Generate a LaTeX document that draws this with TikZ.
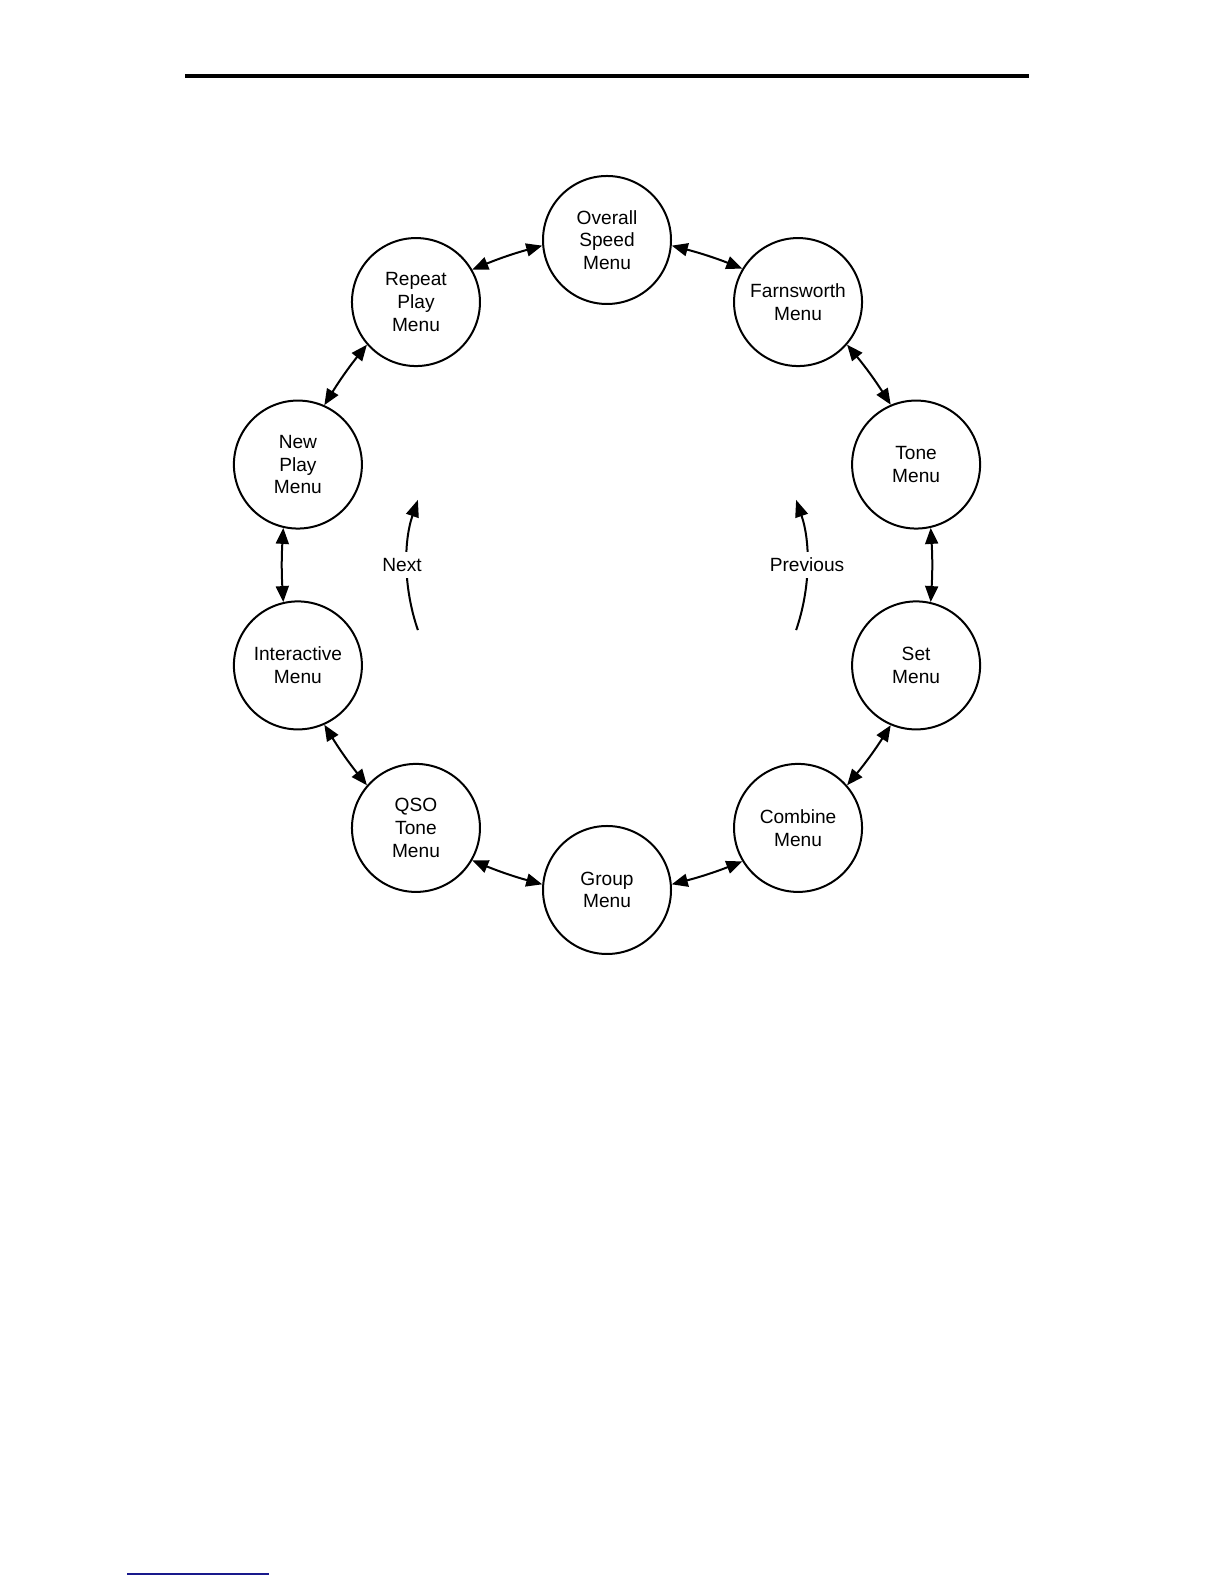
\documentclass[tikz,border=0pt]{standalone}
\usepackage{fontspec}
\setmainfont{Liberation Sans}
\usetikzlibrary{arrows.meta}
\definecolor{rulenavy}{RGB}{25,25,140}
\begin{document}
\begin{tikzpicture}[x=0.5bp,y=0.5bp,
  menu/.style={circle,draw,line width=1bp,minimum size=64bp,inner sep=0pt,align=center,
    font=\fontsize{9.6}{11.4}\selectfont},
  link/.style={line width=1bp,{Triangle[length=8bp,width=6.5bp]}-{Triangle[length=8bp,width=6.5bp]}},
  flow/.style={line width=1bp,-{Triangle[length=8.5bp,width=6.5bp]}},
  lbl/.style={fill=white,inner sep=3bp,font=\fontsize{9.6}{11.4}\selectfont}]
\path[use as bounding box] (0,0) rectangle (1224,1584);
% top rule and bottom short rule
\draw[line width=2bp] (185,1508) -- (1029,1508);
\draw[rulenavy,line width=0.8bp] (127,10) -- (269,10);
\coordinate (C) at (607,1019);
\node[menu] (os) at ([shift={(90:325)}]C) {Overall\\Speed\\Menu};
\node[menu] (fw) at ([shift={(54:325)}]C) {Farnsworth\\Menu};
\node[menu] (tn) at ([shift={(18:325)}]C) {Tone\\Menu};
\node[menu] (st) at ([shift={(-18:325)}]C) {Set\\Menu};
\node[menu] (cb) at ([shift={(-54:325)}]C) {Combine\\Menu};
\node[menu] (gp) at ([shift={(-90:325)}]C) {Group\\Menu};
\node[menu] (qs) at ([shift={(-126:325)}]C) {QSO\\Tone\\Menu};
\node[menu] (ia) at ([shift={(-162:325)}]C) {Interactive\\Menu};
\node[menu] (np) at ([shift={(162:325)}]C) {New\\Play\\Menu};
\node[menu] (rp) at ([shift={(126:325)}]C) {Repeat\\Play\\Menu};
% connectors along the ring (clockwise pairs)
\draw[link] (os.{90-95.7}) to[bend left=3.5] (fw.{54+95.7});
\draw[link] (fw.{54-95.7}) to[bend left=3.5] (tn.{18+95.7});
\draw[link] (tn.{18-95.7}) to[bend left=3.5] (st.{-18+95.7});
\draw[link] (st.{-18-95.7}) to[bend left=3.5] (cb.{-54+95.7});
\draw[link] (cb.{-54-95.7}) to[bend left=3.5] (gp.{-90+95.7});
\draw[link] (gp.{-90-95.7}) to[bend left=3.5] (qs.{-126+95.7});
\draw[link] (qs.{-126-95.7}) to[bend left=3.5] (ia.{-162+95.7});
\draw[link] (ia.{-162-95.7}) to[bend left=3.5] (np.{162+95.7});
\draw[link] (np.{162-95.7}) to[bend left=3.5] (rp.{126+95.7});
\draw[link] (rp.{126-95.7}) to[bend left=3.5] (os.{90+95.7});
% Next / Previous direction arrows
\coordinate (nextstart) at ([shift={(199:200)}]C);
\coordinate (prevstart) at ([shift={(-19:200)}]C);
\draw[flow] (nextstart) arc[start angle=199,end angle=161,radius=200];
\draw[flow] (prevstart) arc[start angle=-19,end angle=19,radius=200];
\node[lbl] (next) at (402,1019) {Next};
\node[lbl] (prev) at (807,1019) {Previous};
\end{tikzpicture}
\end{document}
